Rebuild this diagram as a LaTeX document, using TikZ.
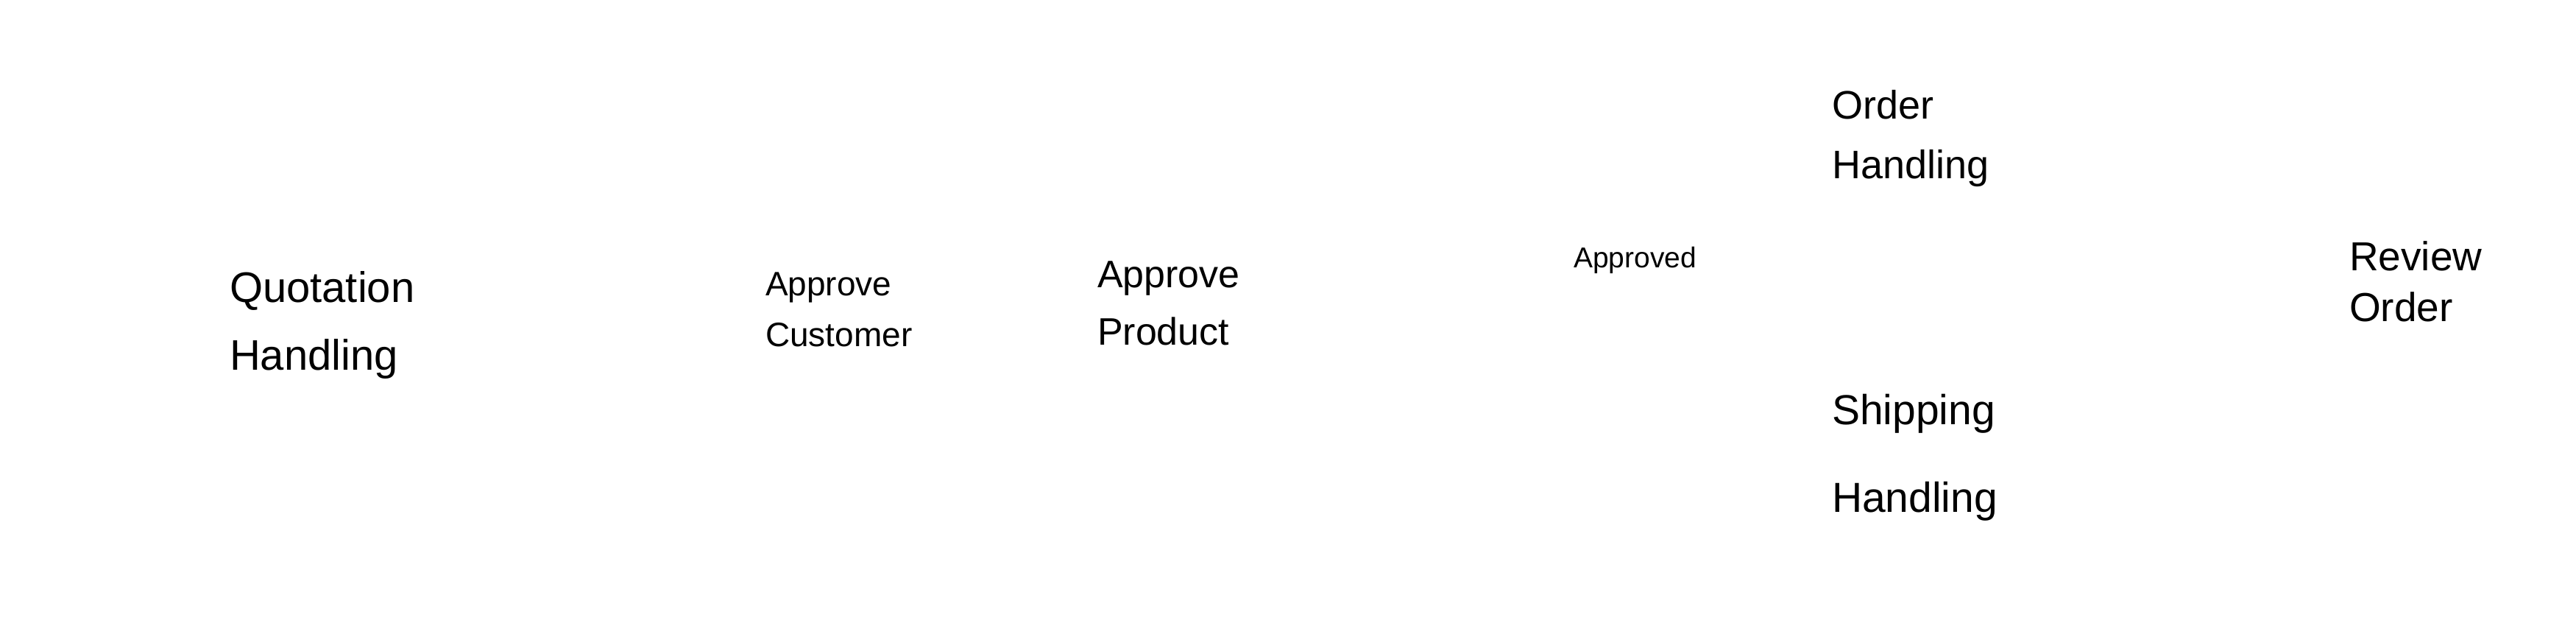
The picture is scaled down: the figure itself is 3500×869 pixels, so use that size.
\documentclass[tikz,border=0pt]{standalone}
\usepackage{fontspec}
\setmainfont{Liberation Sans}
\begin{document}
\begin{tikzpicture}[x=1pt,y=1pt,
  lbl/.style={inner sep=0pt, outer sep=0pt, anchor=west, align=left, text=black}]
\useasboundingbox[fill=white] (0,0) rectangle (3500,-869);
\node[lbl, font=\fontsize{58}{92}\selectfont] (quot) at (312,-441) {Quotation\\Handling};
\node[lbl, font=\fontsize{46}{69}\selectfont] (cust) at (1040,-420) {Approve\\Customer};
\node[lbl, font=\fontsize{52}{78}\selectfont] (prod) at (1491,-412) {Approve\\Product};
\node[lbl, font=\fontsize{39}{50}\selectfont] (appr) at (2138,-353) {Approved};
\node[lbl, font=\fontsize{54}{81}\selectfont] (order) at (2489,-188) {Order\\Handling};
\node[lbl, font=\fontsize{57}{119}\selectfont] (ship) at (2489,-621) {Shipping\\Handling};
\node[lbl, font=\fontsize{55}{69}\selectfont] (rev) at (3192,-382) {Review\\Order};
\end{tikzpicture}
\end{document}
